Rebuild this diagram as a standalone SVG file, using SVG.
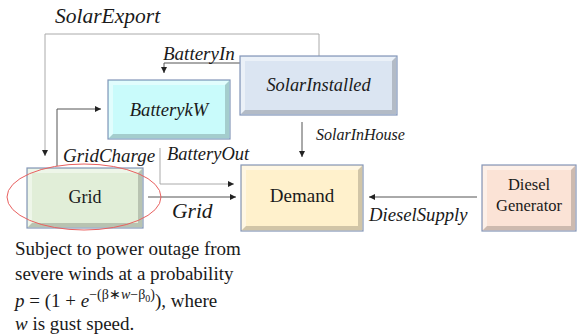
<svg xmlns="http://www.w3.org/2000/svg" width="577" height="335" viewBox="0 0 577 335">
<defs>
<style>
text{font-family:'Liberation Serif','Times New Roman',serif}
.lbl{font-style:italic;fill:#1a1a1a}
.nt{fill:#1a1a1a;text-anchor:middle}
.ln{fill:none;stroke:#555;stroke-width:1}
.ln2{fill:none;stroke:#aaa;stroke-width:1}
.bx{stroke:#8496b8;stroke-width:1.2}
.hi{fill:#fff;opacity:0.45}
.sh{fill:#000;opacity:0.18}
.body{font-size:19px;fill:#1a1a1a}
</style>
<marker id="ah" viewBox="0 0 6 6" refX="6" refY="3" markerWidth="6" markerHeight="6" orient="auto" markerUnits="userSpaceOnUse">
<path d="M0,0 L6,3 L0,6 Z" fill="#222"/>
</marker>
</defs>
<rect width="577" height="335" fill="#fff"/>

<g id="connectors">
<path class="ln2" d="M319,56 V34 H45 V156" marker-end="url(#ah)"/>
<path class="ln" d="M240,63 H164 V73" marker-end="url(#ah)"/>
<path class="ln" d="M57,166 V109 H101" marker-end="url(#ah)"/>
<path class="ln2" d="M160,148 V184 H234" marker-end="url(#ah)"/>
<path class="ln" d="M148,197 H236" marker-end="url(#ah)"/>
<path class="ln" d="M302,122 V157" marker-end="url(#ah)"/>
<path class="ln" d="M477,197 H369" marker-end="url(#ah)"/>
<text class="lbl" x="55" y="23" font-size="21.5">SolarExport</text>
<text class="lbl" x="163" y="60" font-size="19">BatteryIn</text>
<text class="lbl" x="63" y="162" font-size="19">GridCharge</text>
<text class="lbl" x="167" y="160" font-size="18.5">BatteryOut</text>
<text class="lbl" x="316" y="140" font-size="16">SolarInHouse</text>
<text class="lbl" x="172" y="218" font-size="21.5">Grid</text>
<text class="lbl" x="369" y="221" font-size="18.7">DieselSupply</text>
</g>

<g id="SolarInstalled">
<rect class="bx" x="240" y="56" width="157" height="59" fill="#dbe5f2"/>
<path class="hi" d="M241,57 H396 L392,61 H245 V110 L241,114 Z"/>
<path class="sh" d="M396,57 V114 H241 L245,110 H392 V61 Z"/>
<text class="lbl" x="318.5" y="91" font-size="18.4" text-anchor="middle">SolarInstalled</text>
</g>

<g id="BatterykW">
<rect class="bx" x="108" y="80" width="122" height="59" fill="#c9fbfb"/>
<path class="hi" d="M109,81 H229 L225,85 H113 V134 L109,138 Z"/>
<path class="sh" d="M229,81 V138 H109 L113,134 H225 V85 Z"/>
<text class="lbl" x="169" y="116" font-size="18.6" text-anchor="middle">BatterykW</text>
</g>

<g id="Grid">
<rect class="bx" x="27" y="168" width="116" height="60" fill="#e1eed8"/>
<path class="hi" d="M28,169 H142 L138,173 H32 V223 L28,227 Z"/>
<path class="sh" d="M142,169 V227 H28 L32,223 H138 V173 Z"/>
<text class="nt" x="85" y="203" font-size="18">Grid</text>
<ellipse cx="84" cy="197" rx="77" ry="33" fill="none" stroke="#e8605f" stroke-width="1"/>
</g>

<g id="Demand">
<rect class="bx" x="241" y="165" width="122" height="66" fill="#fff1cc"/>
<path class="hi" d="M242,166 H362 L358,170 H246 V226 L242,230 Z"/>
<path class="sh" d="M362,166 V230 H242 L246,226 H358 V170 Z"/>
<text class="nt" x="302" y="202" font-size="19">Demand</text>
</g>

<g id="DieselGenerator">
<rect class="bx" x="482" y="165" width="94" height="66" fill="#fbe3d6"/>
<path class="hi" d="M483,166 H575 L571,170 H487 V226 L483,230 Z"/>
<path class="sh" d="M575,166 V230 H483 L487,226 H571 V170 Z"/>
<text class="nt" x="529" y="190" font-size="16.5">Diesel</text>
<text class="nt" x="529" y="211" font-size="16.5">Generator</text>
</g>

<g id="note">
<text class="body" x="15" y="255">Subject to power outage from</text>
<text class="body" x="15" y="280">severe winds at a probability</text>
<text class="body" x="15" y="307"><tspan font-style="italic">p</tspan> = (1 + <tspan font-style="italic">e</tspan><tspan font-size="14" dy="-8">−(β∗<tspan font-style="italic">w</tspan>−β<tspan font-size="10" dy="3">0</tspan><tspan dy="-3">)</tspan></tspan><tspan dy="8">), where</tspan></text>
<text class="body" x="15" y="330"><tspan font-style="italic">w</tspan> is gust speed.</text>
</g>
</svg>
